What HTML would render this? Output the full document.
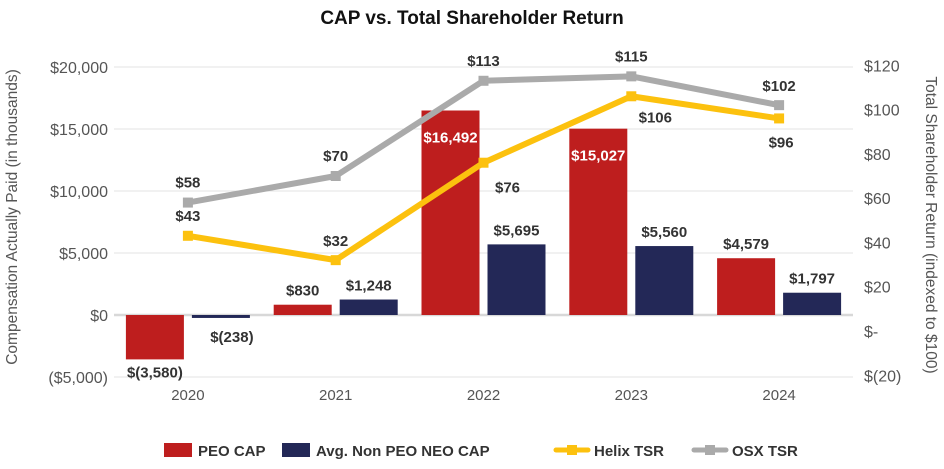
<!DOCTYPE html>
<html><head><meta charset="utf-8"><style>
body{margin:0;background:#fff;width:944px;height:464px;overflow:hidden;font-family:"Liberation Sans",sans-serif}
</style></head><body>
<svg id="c" width="944" height="464" xmlns="http://www.w3.org/2000/svg" font-family="Liberation Sans, sans-serif">
<text x="472" y="24" text-anchor="middle" font-size="19" font-weight="bold" fill="#111">CAP vs. Total Shareholder Return</text>
<text transform="translate(17,217) rotate(-90)" text-anchor="middle" font-size="15.5" fill="#555">Compensation Actually Paid (in thousands)</text>
<text transform="translate(926,225) rotate(90)" text-anchor="middle" font-size="15.5" fill="#555">Total Shareholder Return (indexed to $100)</text>
<g id="grid"></g><g id="bars"></g><g id="lines"></g><g id="labels"></g><g id="axes"></g>
<g id="legend">
<rect x="164" y="443" width="28" height="14" fill="#be1e1e"/><text x="198" y="456" font-size="15" font-weight="bold" fill="#333">PEO CAP</text>
<rect x="282" y="443" width="28" height="14" fill="#232857"/><text x="316" y="456" font-size="15" font-weight="bold" fill="#333">Avg. Non PEO NEO CAP</text>
<line x1="556" y1="450" x2="588" y2="450" stroke="#fcc10e" stroke-width="5" stroke-linecap="round"/><rect x="567" y="445" width="10" height="10" fill="#fcc10e"/><text x="594" y="456" font-size="15" font-weight="bold" fill="#333">Helix TSR</text>
<line x1="694" y1="450" x2="726" y2="450" stroke="#aaa" stroke-width="5" stroke-linecap="round"/><rect x="705" y="445" width="10" height="10" fill="#aaa"/><text x="732" y="456" font-size="15" font-weight="bold" fill="#333">OSX TSR</text>
</g>
</svg>
<script>
const years=["2020","2021","2022","2023","2024"];
const peoCap=[-3580,830,16492,15027,4579];
const neoCap=[-238,1248,5695,5560,1797];
const helixTsr=[43,32,76,106,96];
const osxTsr=[58,70,113,115,102];
const leftTicks=[20000,15000,10000,5000,0,-5000];
const leftTickLabels=["$20,000","$15,000","$10,000","$5,000","$0","($5,000)"];
const rightTicks=[120,100,80,60,40,20,0,-20];
const rightTickLabels=["$120","$100","$80","$60","$40","$20","$-","$(20)"];
const NS="http://www.w3.org/2000/svg";
const X0=114,X1=853,bw=(X1-X0)/years.length;
const yL=v=>315-v*62/5000;
const yR=v=>331-v*310/140;
const xc=i=>X0+bw*(i+0.5);
function mk(t,a,p,txt){const e=document.createElementNS(NS,t);for(const k in a)e.setAttribute(k,a[k]);if(txt!=null)e.textContent=txt;document.getElementById(p).appendChild(e);return e;}
const fmt=v=>v<0?"$("+Math.abs(v).toLocaleString("en-US")+")":"$"+v.toLocaleString("en-US");
leftTicks.forEach((v,i)=>{
  const g=mk("line",{x1:X0,x2:X1,y1:yL(v),y2:yL(v),stroke:v===0?"#d8d8d8":"#e3e3e3","stroke-width":v===0?2.5:1},"grid");
  
  const t=mk("text",{x:108,y:yL(v)+6,"text-anchor":"end","font-size":16,fill:"#555"},"axes",leftTickLabels[i]);
  
});
rightTicks.forEach((v,i)=>{
  const t=mk("text",{x:864,y:yR(v)+6,"font-size":16,fill:"#555"},"axes",rightTickLabels[i]);
  
});
years.forEach((y,i)=>{
  const t=mk("text",{x:xc(i),y:400,"text-anchor":"middle","font-size":15,fill:"#555"},"axes",y);
  
  [[peoCap,"#be1e1e",-62],[neoCap,"#232857",4]].forEach(([arr,col,off],k)=>{
    const v=arr[i],x=xc(i)+off,top=Math.min(yL(v),yL(0)),h=Math.abs(yL(v)-yL(0));
    const r=mk("rect",{x:x,y:top,width:58,height:Math.max(h,2),fill:col},"bars");
    
    const inside=k===0&&v>10000;
    const ly=inside?yL(v)+32:yL(v)-9;
    const lx=(k===1&&v<0)?x+40:x+29;
    const l=mk("text",{x:lx,y:v<0?(k?yL(0)+27:yL(v)+18):ly,"text-anchor":"middle","font-size":15,"font-weight":"bold",fill:inside?"#fff":"#333"},"labels",fmt(v));
    
  });
});
function line(arr,col,name,labOff){
  const pts=arr.map((v,i)=>xc(i)+","+yR(v)).join(" ");
  const p=mk("polyline",{points:pts,fill:"none",stroke:col,"stroke-width":6,"stroke-linejoin":"round"},"lines");
  
  arr.forEach((v,i)=>{
    const m=mk("rect",{x:xc(i)-5,y:yR(v)-5,width:10,height:10,fill:col},"lines");
    
    const o=labOff[i];
    const t=mk("text",{x:xc(i)+o[0],y:yR(v)+o[1],"text-anchor":"middle","font-size":15,"font-weight":"bold",fill:"#333"},"labels","$"+v);
    
  });
}
line(helixTsr,"#fcc10e","helix-tsr",[[0,-15],[0,-14],[24,30],[24,26],[2,29]]);
line(osxTsr,"#aaa","osx-tsr",[[0,-15],[0,-15],[0,-15],[0,-15],[0,-14]]);
</script>
</body></html>
